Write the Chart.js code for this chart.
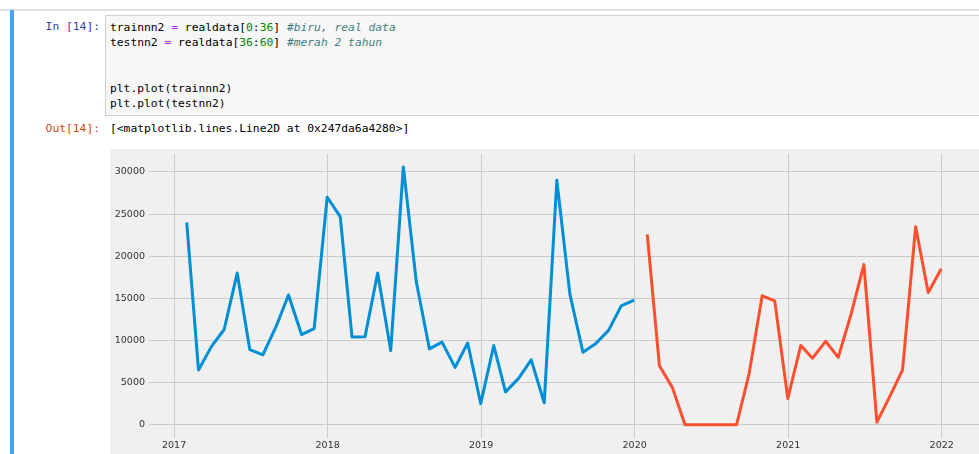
<!DOCTYPE html>
<html lang="en">
<head>
    <meta charset="UTF-8">
    <title>trainnn2 / testnn2</title>
    <script src="https://cdn.jsdelivr.net/npm/chart.js"></script>
    <style>
        html, body {
            margin: 0;
            padding: 0;
            width: 979px;
            height: 454px;
            overflow: hidden;
            background: #fff;
        }

        .cell-top {
            position: absolute;
            left: 0;
            top: 9px;
            width: 979px;
            height: 2px;
            background: #e0e0e0;
        }

        .cell-bar {
            position: absolute;
            left: 10px;
            top: 10px;
            width: 4px;
            height: 460px;
            background: #42a5f5;
        }

        .mono {
            font-family: "DejaVu Sans Mono", monospace;
            font-size: 11.3px;
            line-height: 15.3px;
            white-space: pre;
            margin: 0;
        }

        .prompt {
            position: absolute;
            width: 100px;
            left: 0;
            text-align: right;
        }

        .in-prompt { top: 19px; color: #303f9f; }
        .out-prompt { top: 121px; color: #d84315; }

        .input-box {
            position: absolute;
            left: 105px;
            top: 15px;
            width: 900px;
            height: 99px;
            background: #f7f7f7;
            border: 1px solid #cfcfcf;
        }

        .code {
            position: absolute;
            left: 4px;
            top: 4px;
            color: #000;
        }

        .op { color: #aa22ff; }
        .num { color: #008800; }
        .cm { color: #408080; font-style: italic; }

        .out-text {
            position: absolute;
            left: 110px;
            top: 121px;
            color: #000;
        }

        .chart-box {
            position: absolute;
            left: 110px;
            top: 149px;
            width: 875px;
            height: 330px;
        }
    </style>
</head>
<body>
    <div class="cell-top"></div>
    <div class="cell-bar"></div>

    <div class="mono prompt in-prompt">In [14]:</div>
    <div class="input-box">
<div class="mono code">trainnn2 <span class="op">=</span> realdata[<span class="num">0</span>:<span class="num">36</span>] <span class="cm">#biru, real data</span>
testnn2 <span class="op">=</span> realdata[<span class="num">36</span>:<span class="num">60</span>] <span class="cm">#merah 2 tahun</span>


plt.plot(trainnn2)
plt.plot(testnn2)</div>
    </div>

    <div class="mono prompt out-prompt">Out[14]:</div>
    <div class="mono out-text">[&lt;matplotlib.lines.Line2D at 0x247da6a4280&gt;]</div>

    <div class="chart-box"><canvas id="plot"></canvas></div>

    <script>
        // monthly values, month-end dates (Jan 2017 .. Dec 2019 / Jan 2020 .. Dec 2021)
        const trainStart = [2017, 1];
        const trainValues = [
            24000, 6500, 9300, 11300, 18000, 8900, 8300, 11600, 15400, 10700, 11400, 27000,
            24700, 10400, 10450, 18000, 8800, 30600, 16900, 9000, 9800, 6800, 9700, 2500,
            9400, 3900, 5500, 7700, 2600, 29000, 15500, 8600, 9600, 11200, 14100, 14800
        ];

        const testStart = [2020, 1];
        const testValues = [
            22600, 7000, 4400, 0, 0, 0, 0, 0, 6100, 15300, 14700, 3100,
            9400, 7900, 9900, 8000, 13200, 19000, 300, 3400, 6500, 23500, 15700, 18500
        ];

        const yearTicks = [2017, 2018, 2019, 2020, 2021, 2022];
        const valueTicks = [0, 5000, 10000, 15000, 20000, 25000, 30000];

        // month-end date -> decimal year (like matplotlib date positions)
        function monthEnd(year, month) {
            const end = Date.UTC(year, month, 0);
            const start = Date.UTC(year, 0, 1);
            const next = Date.UTC(year + 1, 0, 1);
            return year + (end - start) / (next - start);
        }

        function toPoints(start, values) {
            return values.map((v, i) => {
                const m = start[1] - 1 + i;
                return { x: monthEnd(start[0] + Math.floor(m / 12), (m % 12) + 1), y: v };
            });
        }

        const trainData = toPoints(trainStart, trainValues);
        const testData = toPoints(testStart, testValues);

        // matplotlib auto limits: 5% margin each side
        const allX = trainData.concat(testData).map(p => p.x);
        const allY = trainValues.concat(testValues);
        const xSpan = Math.max(...allX) - Math.min(...allX);
        const ySpan = Math.max(...allY) - Math.min(...allY);

        const figureBg = {
            id: 'figureBg',
            beforeDraw(chart) {
                const ctx = chart.ctx;
                ctx.save();
                ctx.fillStyle = '#f0f0f0';
                ctx.fillRect(0, 0, chart.width, chart.height);
                ctx.restore();
            }
        };

        const tickFont = { family: 'DejaVu Sans', size: 9.5 };

        // fixed axis box sizes, no extra label padding
        function fixSize(prop, size) {
            return s => {
                s[prop] = size;
                s.paddingTop = 0;
                s.paddingBottom = 0;
                s.paddingLeft = 0;
                s.paddingRight = 0;
            };
        }

        new Chart(document.getElementById('plot'), {
            type: 'line',
            data: {
                datasets: [{
                    data: trainData,
                    borderColor: '#008fd5',
                    borderWidth: 3,
                    pointRadius: 0,
                    tension: 0,
                    borderJoinStyle: 'round'
                }, {
                    data: testData,
                    borderColor: '#fc4f30',
                    borderWidth: 3,
                    pointRadius: 0,
                    tension: 0,
                    borderJoinStyle: 'round'
                }]
            },
            options: {
                responsive: true,
                maintainAspectRatio: false,
                animation: false,
                layout: { padding: { top: 5, right: 6, left: 0, bottom: 0 } },
                plugins: {
                    legend: { display: false },
                    tooltip: { enabled: false }
                },
                scales: {
                    x: {
                        type: 'linear',
                        min: Math.min(...allX) - 0.05 * xSpan,
                        max: Math.max(...allX) + 0.05 * xSpan,
                        afterBuildTicks: s => { s.ticks = yearTicks.map(v => ({ value: v })); },
                        afterFit: fixSize('height', 41.4),
                        grid: { color: '#cbcbcb', lineWidth: 1, drawTicks: false },
                        border: { display: false },
                        ticks: {
                            font: tickFont,
                            color: '#333',
                            padding: 2,
                            maxRotation: 0,
                            callback: v => String(v)
                        }
                    },
                    y: {
                        min: Math.min(...allY) - 0.05 * ySpan,
                        max: Math.max(...allY) + 0.05 * ySpan,
                        afterBuildTicks: s => { s.ticks = valueTicks.map(v => ({ value: v })); },
                        afterFit: fixSize('width', 39),
                        grid: { color: '#cbcbcb', lineWidth: 1, drawTicks: false },
                        border: { display: false },
                        ticks: {
                            font: tickFont,
                            color: '#333',
                            padding: 4,
                            callback: v => String(v)
                        }
                    }
                }
            },
            plugins: [figureBg]
        });
    </script>
</body>
</html>
